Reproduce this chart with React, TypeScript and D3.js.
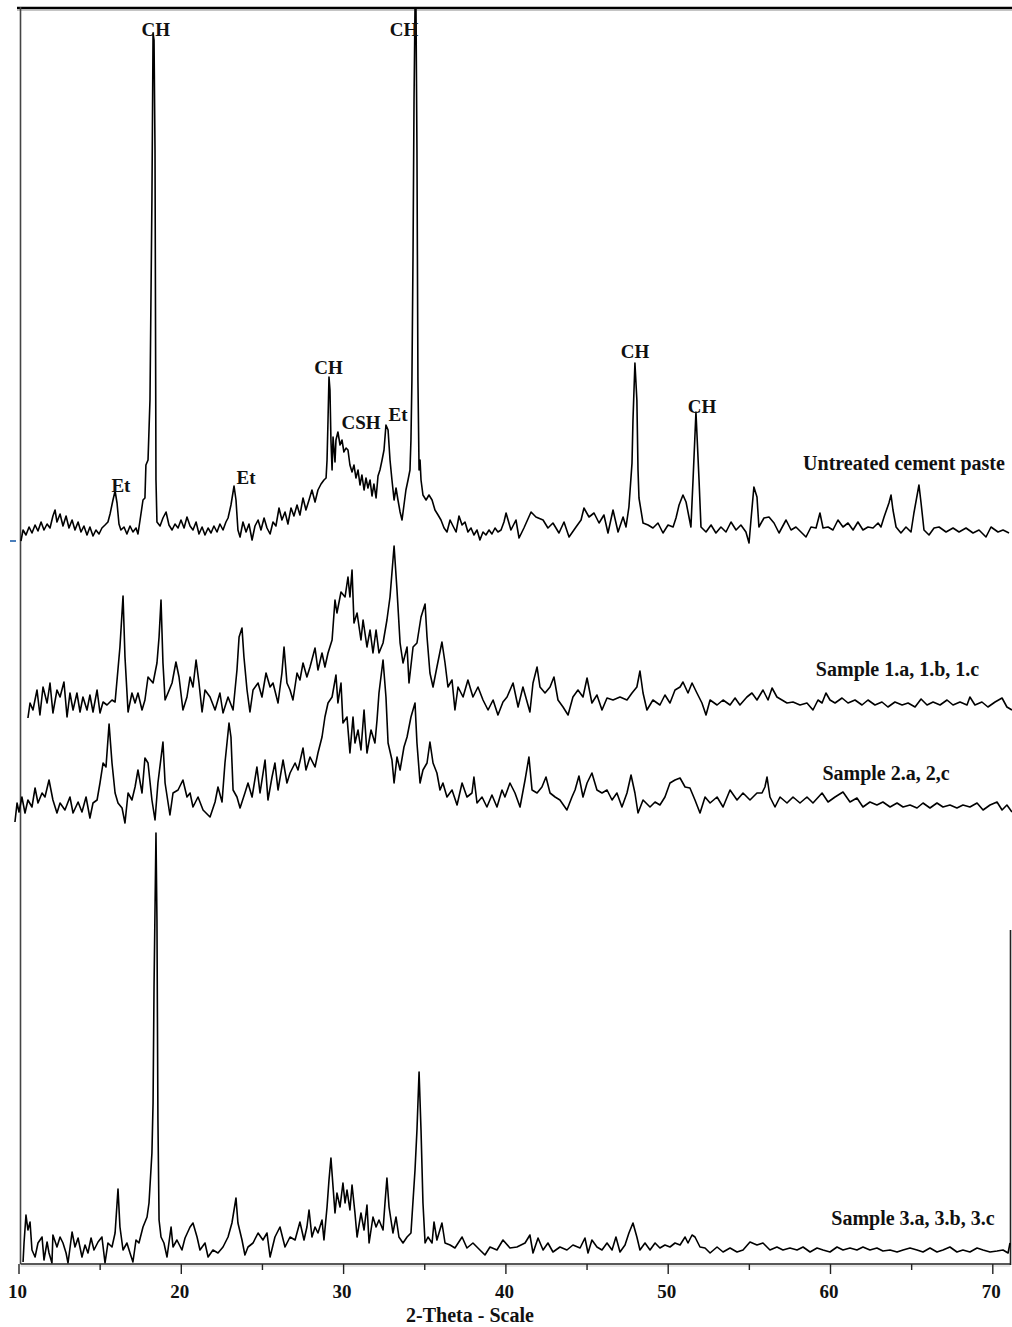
import React from 'react';
import * as d3 from 'd3';

// XRD patterns: [2-theta (deg), intensity (a.u.)]
const untreated: [number, number][] = [
  [10.12, 4], [10.25, 15], [10.43, 10], [10.62, 18], [10.8, 12], [10.99, 20], [11.17, 14], [11.36, 23],
  [11.54, 15], [11.73, 21], [11.91, 17], [12.09, 29], [12.22, 35], [12.34, 23], [12.53, 31], [12.71, 19],
  [12.9, 29], [13.08, 17], [13.27, 25], [13.45, 15], [13.64, 23], [13.82, 13], [14.0, 19], [14.19, 10],
  [14.37, 18], [14.56, 9], [14.74, 15], [14.93, 11], [15.11, 17], [15.3, 20], [15.48, 23], [15.61, 31],
  [15.79, 45], [15.92, 54], [16.04, 42], [16.16, 21], [16.28, 15], [16.47, 18], [16.65, 11], [16.84, 19],
  [17.02, 13], [17.21, 17], [17.33, 11], [17.46, 25], [17.64, 45], [17.76, 47], [17.82, 80], [17.95, 85],
  [18.07, 145], [18.19, 345], [18.26, 512], [18.32, 505], [18.38, 395], [18.44, 65], [18.5, 23], [18.69, 19],
  [18.87, 27], [19.06, 33], [19.24, 20], [19.43, 15], [19.61, 21], [19.8, 17], [19.98, 25], [20.17, 17],
  [20.35, 28], [20.54, 19], [20.72, 15], [20.91, 23], [21.09, 11], [21.28, 18], [21.46, 10], [21.65, 17],
  [21.83, 12], [22.01, 19], [22.2, 13], [22.38, 21], [22.57, 15], [22.75, 23], [22.88, 27], [23.06, 40],
  [23.25, 59], [23.37, 45], [23.49, 15], [23.62, 8], [23.8, 23], [23.99, 13], [24.17, 21], [24.36, 5],
  [24.54, 19], [24.73, 25], [24.91, 15], [25.1, 27], [25.28, 17], [25.47, 11], [25.65, 23], [25.83, 19],
  [26.02, 37], [26.2, 25], [26.39, 33], [26.57, 21], [26.76, 37], [26.94, 29], [27.13, 40], [27.31, 30],
  [27.5, 47], [27.68, 35], [27.87, 45], [28.05, 55], [28.24, 43], [28.42, 55], [28.61, 61], [28.79, 65],
  [28.92, 67], [28.98, 85], [29.04, 125], [29.1, 168], [29.16, 155], [29.22, 105], [29.29, 75], [29.35, 108],
  [29.47, 83], [29.53, 105], [29.65, 113], [29.78, 100], [29.9, 105], [30.02, 93], [30.15, 97], [30.27, 95],
  [30.39, 80], [30.52, 73], [30.64, 80], [30.76, 67], [30.89, 75], [31.01, 60], [31.13, 70], [31.26, 55],
  [31.38, 67], [31.5, 57], [31.63, 65], [31.75, 49], [31.87, 61], [32.0, 47], [32.12, 69], [32.24, 75],
  [32.37, 85], [32.49, 95], [32.61, 120], [32.74, 115], [32.86, 85], [32.98, 65], [33.11, 45], [33.23, 57],
  [33.35, 45], [33.48, 33], [33.6, 25], [33.72, 40], [33.84, 55], [33.97, 65], [34.09, 75], [34.15, 105],
  [34.21, 165], [34.28, 295], [34.34, 445], [34.4, 537], [34.46, 537], [34.52, 395], [34.58, 165], [34.65, 75],
  [34.71, 85], [34.77, 65], [34.89, 50], [35.08, 45], [35.26, 50], [35.45, 45], [35.63, 35], [35.82, 30],
  [36.0, 25], [36.19, 17], [36.37, 13], [36.56, 25], [36.74, 19], [36.93, 13], [37.11, 29], [37.3, 20],
  [37.48, 23], [37.66, 13], [37.85, 17], [38.03, 10], [38.22, 15], [38.4, 5], [38.59, 13], [38.77, 10],
  [38.96, 15], [39.14, 11], [39.33, 17], [39.51, 13], [39.7, 15], [39.88, 23], [40.01, 32], [40.31, 15],
  [40.62, 25], [40.81, 7], [41.11, 17], [41.55, 33], [41.85, 28], [42.29, 25], [42.59, 17], [42.9, 22],
  [43.27, 12], [43.58, 23], [43.89, 8], [44.32, 18], [44.63, 25], [44.81, 37], [45.12, 28], [45.43, 32],
  [45.74, 22], [46.04, 30], [46.29, 12], [46.6, 35], [46.91, 13], [47.22, 28], [47.4, 18], [47.58, 38],
  [47.77, 82], [47.83, 125], [47.95, 182], [48.07, 145], [48.14, 75], [48.2, 47], [48.45, 22], [48.76, 20],
  [49.06, 17], [49.37, 22], [49.68, 12], [49.99, 20], [50.3, 18], [50.48, 27], [50.67, 40], [50.91, 50],
  [51.1, 43], [51.28, 28], [51.4, 18], [51.53, 65], [51.71, 133], [51.9, 65], [52.02, 18], [52.33, 13],
  [52.64, 20], [52.94, 12], [53.25, 18], [53.56, 13], [53.87, 23], [54.18, 15], [54.48, 20], [54.79, 13],
  [54.98, 2], [55.1, 25], [55.28, 58], [55.47, 48], [55.59, 18], [55.9, 27], [56.21, 28], [56.52, 22],
  [56.83, 12], [57.26, 25], [57.57, 15], [57.87, 18], [58.18, 13], [58.49, 8], [58.8, 18], [59.11, 17],
  [59.35, 32], [59.54, 17], [59.85, 18], [60.15, 15], [60.46, 25], [60.77, 18], [61.08, 22], [61.39, 15],
  [61.69, 23], [62.0, 15], [62.31, 18], [62.62, 17], [62.93, 22], [63.11, 18], [63.3, 28], [63.6, 42],
  [63.73, 50], [63.85, 35], [64.04, 18], [64.34, 12], [64.65, 18], [64.96, 13], [65.14, 32], [65.45, 60],
  [65.58, 42], [65.76, 15], [66.07, 10], [66.38, 17], [66.69, 18], [67.12, 13], [67.55, 17], [67.92, 13],
  [68.35, 17], [68.78, 12], [69.15, 15], [69.58, 8], [69.89, 18], [70.32, 13], [70.63, 15], [71.0, 12],
];

const sample1: [number, number][] = [
  [10.55, 2], [10.68, 17], [10.86, 10], [11.11, 30], [11.29, 5], [11.48, 33], [11.73, 17], [11.91, 37],
  [12.09, 7], [12.34, 30], [12.53, 23], [12.77, 38], [12.96, 3], [13.14, 27], [13.33, 10], [13.57, 27],
  [13.76, 8], [13.94, 23], [14.19, 10], [14.37, 25], [14.56, 8], [14.81, 30], [14.99, 7], [15.18, 18],
  [15.42, 15], [15.73, 20], [15.92, 18], [16.04, 40], [16.22, 73], [16.41, 124], [16.53, 63], [16.72, 8],
  [16.96, 27], [17.15, 17], [17.33, 27], [17.58, 10], [17.76, 20], [17.95, 43], [18.26, 37], [18.5, 57],
  [18.63, 83], [18.75, 120], [18.87, 57], [19.0, 20], [19.18, 27], [19.43, 37], [19.67, 58], [19.86, 43],
  [20.1, 10], [20.35, 23], [20.54, 43], [20.72, 33], [20.91, 60], [21.09, 37], [21.28, 8], [21.46, 30],
  [21.77, 23], [22.08, 10], [22.38, 27], [22.57, 7], [22.88, 23], [23.19, 10], [23.43, 50], [23.56, 83],
  [23.74, 92], [23.86, 63], [24.05, 30], [24.23, 8], [24.42, 30], [24.73, 37], [24.97, 23], [25.22, 47],
  [25.47, 33], [25.65, 37], [25.96, 17], [26.2, 47], [26.33, 73], [26.51, 37], [26.7, 30], [26.88, 20],
  [27.13, 47], [27.31, 40], [27.5, 57], [27.74, 43], [27.93, 53], [28.24, 72], [28.42, 50], [28.67, 67],
  [28.85, 53], [29.04, 67], [29.29, 80], [29.47, 120], [29.59, 107], [29.84, 128], [30.09, 123], [30.27, 143],
  [30.39, 123], [30.52, 150], [30.64, 97], [30.83, 107], [31.07, 80], [31.2, 100], [31.44, 73], [31.63, 90],
  [31.81, 67], [32.0, 90], [32.18, 67], [32.43, 77], [32.67, 100], [32.86, 123], [33.11, 174], [33.29, 130],
  [33.48, 77], [33.66, 57], [33.91, 73], [34.03, 37], [34.28, 73], [34.52, 77], [34.77, 103], [35.02, 116],
  [35.14, 83], [35.32, 47], [35.51, 33], [35.75, 53], [36.06, 78], [36.25, 57], [36.43, 33], [36.68, 40],
  [36.86, 10], [37.05, 33], [37.36, 23], [37.66, 40], [37.97, 23], [38.28, 33], [38.59, 20], [38.9, 10],
  [39.21, 20], [39.51, 5], [39.82, 18], [40.07, 23], [40.44, 37], [40.75, 13], [41.05, 33], [41.48, 8],
  [41.67, 37], [41.92, 53], [42.1, 33], [42.41, 27], [42.72, 33], [42.96, 43], [43.21, 20], [43.52, 13],
  [43.83, 5], [44.13, 23], [44.44, 30], [44.75, 23], [45.0, 42], [45.3, 17], [45.61, 25], [45.92, 10],
  [46.23, 22], [46.6, 20], [47.03, 23], [47.46, 20], [47.77, 27], [48.07, 33], [48.26, 49], [48.45, 27],
  [48.69, 10], [49.06, 20], [49.49, 15], [49.8, 25], [50.11, 17], [50.42, 30], [50.73, 33], [50.91, 38],
  [51.22, 27], [51.47, 37], [51.77, 27], [52.08, 17], [52.33, 5], [52.58, 20], [53.01, 15], [53.38, 20],
  [53.81, 15], [54.12, 22], [54.42, 15], [54.85, 23], [55.16, 27], [55.47, 20], [55.84, 30], [56.15, 20],
  [56.4, 32], [56.7, 23], [57.01, 20], [57.32, 17], [57.69, 18], [58.12, 15], [58.55, 17], [58.92, 10],
  [59.23, 20], [59.48, 17], [59.72, 27], [59.97, 20], [60.28, 17], [60.71, 22], [61.08, 17], [61.51, 20],
  [61.94, 15], [62.31, 20], [62.74, 15], [63.17, 18], [63.54, 13], [63.97, 18], [64.41, 15], [64.78, 17],
  [65.21, 13], [65.58, 21], [65.95, 15], [66.32, 18], [66.75, 15], [67.18, 20], [67.55, 15], [67.98, 18],
  [68.41, 15], [68.59, 23], [68.9, 15], [69.33, 18], [69.7, 13], [70.14, 18], [70.57, 22], [70.87, 13],
  [71.18, 10],
];

const sample2: [number, number][] = [
  [9.75, 3], [9.88, 22], [10.0, 13], [10.18, 28], [10.37, 12], [10.55, 25], [10.8, 18], [10.99, 37],
  [11.17, 22], [11.42, 32], [11.6, 28], [11.85, 45], [12.09, 25], [12.34, 12], [12.53, 22], [12.83, 15],
  [13.14, 28], [13.33, 12], [13.64, 23], [13.88, 13], [14.13, 28], [14.37, 7], [14.56, 22], [14.81, 25],
  [14.99, 42], [15.18, 62], [15.36, 58], [15.55, 101], [15.73, 62], [15.92, 32], [16.1, 22], [16.35, 17],
  [16.53, 2], [16.72, 32], [16.96, 25], [17.15, 38], [17.33, 55], [17.58, 32], [17.76, 67], [17.95, 62],
  [18.19, 25], [18.38, 5], [18.56, 42], [18.87, 83], [19.0, 42], [19.3, 10], [19.49, 32], [19.8, 35],
  [20.1, 45], [20.35, 28], [20.54, 32], [20.72, 18], [21.03, 28], [21.34, 15], [21.77, 8], [22.08, 23],
  [22.26, 38], [22.51, 23], [22.69, 62], [22.94, 102], [23.06, 88], [23.19, 35], [23.43, 28], [23.62, 17],
  [23.92, 32], [24.11, 42], [24.36, 28], [24.66, 58], [24.85, 32], [25.16, 65], [25.34, 25], [25.59, 48],
  [25.77, 62], [25.96, 35], [26.27, 65], [26.51, 42], [26.7, 52], [27.01, 62], [27.19, 55], [27.5, 77],
  [27.68, 55], [27.93, 68], [28.24, 58], [28.42, 72], [28.67, 88], [28.85, 108], [29.04, 122], [29.29, 128],
  [29.53, 150], [29.65, 122], [29.84, 142], [29.96, 102], [30.21, 108], [30.39, 72], [30.58, 108], [30.7, 82],
  [30.89, 95], [31.07, 75], [31.26, 115], [31.44, 72], [31.69, 95], [31.93, 82], [32.06, 105], [32.18, 132],
  [32.43, 165], [32.61, 128], [32.74, 82], [32.98, 65], [33.11, 42], [33.29, 68], [33.48, 55], [33.72, 78],
  [33.91, 88], [34.15, 108], [34.4, 122], [34.52, 82], [34.71, 42], [34.89, 55], [35.14, 62], [35.32, 83],
  [35.51, 62], [35.75, 52], [35.94, 35], [36.12, 42], [36.37, 28], [36.68, 35], [36.99, 20], [37.3, 42],
  [37.6, 28], [37.91, 32], [38.03, 48], [38.22, 22], [38.53, 28], [38.83, 18], [39.14, 30], [39.45, 18],
  [39.76, 35], [39.94, 28], [40.25, 42], [40.56, 32], [40.87, 18], [41.18, 45], [41.42, 68], [41.61, 35],
  [41.92, 32], [42.22, 38], [42.47, 48], [42.72, 32], [43.03, 28], [43.33, 25], [43.76, 15], [44.07, 28],
  [44.26, 35], [44.5, 49], [44.75, 28], [45.0, 42], [45.3, 52], [45.61, 35], [45.92, 32], [46.23, 35],
  [46.54, 25], [46.84, 32], [47.15, 18], [47.46, 32], [47.71, 50], [47.95, 32], [48.14, 12], [48.45, 25],
  [48.88, 18], [49.19, 23], [49.49, 20], [49.8, 28], [50.11, 42], [50.42, 45], [50.73, 47], [51.04, 38],
  [51.34, 37], [51.65, 25], [51.96, 12], [52.27, 28], [52.58, 22], [53.01, 28], [53.38, 18], [53.81, 35],
  [54.24, 25], [54.61, 32], [55.04, 25], [55.47, 32], [55.78, 32], [55.96, 38], [56.09, 48], [56.27, 28],
  [56.58, 18], [56.89, 28], [57.32, 22], [57.69, 28], [58.12, 22], [58.55, 28], [58.92, 22], [59.48, 32],
  [59.85, 23], [60.28, 28], [60.77, 33], [61.2, 23], [61.63, 27], [62.0, 18], [62.43, 23], [62.86, 20],
  [63.23, 23], [63.67, 18], [64.1, 22], [64.47, 18], [64.9, 20], [65.33, 17], [65.7, 22], [66.13, 17],
  [66.56, 22], [66.93, 18], [67.36, 20], [67.79, 17], [68.16, 20], [68.59, 18], [69.03, 22], [69.4, 15],
  [69.83, 20], [70.26, 23], [70.57, 15], [70.87, 20], [71.18, 13],
];

const sample3: [number, number][] = [
  [10.25, 1], [10.31, 20], [10.43, 48], [10.55, 33], [10.68, 41], [10.8, 13], [10.99, 6], [11.17, 20],
  [11.42, 26], [11.54, 3], [11.73, 21], [11.85, 10], [12.03, 0], [12.09, 28], [12.34, 16], [12.53, 26],
  [12.71, 20], [12.9, 10], [13.02, 0], [13.27, 31], [13.45, 16], [13.64, 25], [13.88, 6], [14.07, 18],
  [14.25, 10], [14.44, 25], [14.62, 13], [14.87, 21], [15.11, 26], [15.3, 0], [15.48, 20], [15.73, 16],
  [15.92, 30], [16.1, 74], [16.22, 36], [16.41, 13], [16.65, 20], [16.84, 10], [17.02, 1], [17.21, 23],
  [17.39, 20], [17.64, 36], [17.89, 46], [18.01, 60], [18.19, 110], [18.26, 160], [18.32, 276], [18.44, 430],
  [18.5, 343], [18.56, 143], [18.63, 43], [18.75, 26], [18.93, 20], [19.12, 6], [19.37, 36], [19.49, 16],
  [19.73, 23], [20.04, 13], [20.23, 25], [20.54, 36], [20.72, 40], [20.97, 26], [21.15, 13], [21.46, 20],
  [21.65, 6], [21.95, 13], [22.26, 10], [22.57, 16], [22.88, 26], [23.12, 40], [23.37, 65], [23.49, 40],
  [23.74, 23], [23.92, 8], [24.11, 16], [24.42, 20], [24.73, 30], [25.03, 23], [25.28, 30], [25.47, 6],
  [25.77, 26], [26.08, 36], [26.39, 16], [26.7, 26], [27.01, 23], [27.31, 41], [27.56, 23], [27.74, 36],
  [27.87, 53], [28.05, 26], [28.24, 36], [28.42, 30], [28.67, 43], [28.79, 23], [28.98, 56], [29.1, 83],
  [29.22, 105], [29.35, 76], [29.47, 50], [29.59, 70], [29.78, 56], [29.96, 80], [30.09, 60], [30.21, 73],
  [30.39, 53], [30.52, 78], [30.7, 50], [30.83, 26], [31.07, 50], [31.26, 33], [31.44, 58], [31.57, 20],
  [31.81, 46], [32.0, 36], [32.18, 43], [32.43, 33], [32.55, 60], [32.67, 85], [32.8, 56], [33.04, 30],
  [33.23, 46], [33.41, 26], [33.66, 20], [33.91, 26], [34.15, 30], [34.4, 93], [34.52, 133], [34.65, 191],
  [34.77, 133], [34.89, 60], [35.02, 20], [35.2, 26], [35.45, 20], [35.57, 41], [35.75, 23], [36.06, 40],
  [36.25, 20], [36.56, 18], [36.86, 15], [37.3, 26], [37.6, 15], [37.97, 20], [38.4, 13], [38.71, 8],
  [39.02, 16], [39.45, 13], [39.82, 23], [40.25, 15], [40.68, 16], [41.18, 20], [41.48, 28], [41.67, 10],
  [41.98, 25], [42.29, 13], [42.59, 20], [42.9, 11], [43.33, 16], [43.76, 13], [44.13, 18], [44.57, 15],
  [44.87, 25], [45.06, 10], [45.3, 23], [45.61, 16], [45.92, 13], [46.23, 20], [46.54, 13], [46.78, 26],
  [47.03, 11], [47.34, 18], [47.58, 30], [47.83, 40], [48.07, 26], [48.26, 13], [48.57, 20], [48.88, 13],
  [49.19, 20], [49.49, 15], [49.8, 18], [50.11, 16], [50.42, 20], [50.73, 18], [51.04, 26], [51.22, 20],
  [51.47, 28], [51.65, 26], [51.96, 16], [52.27, 15], [52.58, 10], [53.01, 16], [53.38, 11], [53.81, 15],
  [54.24, 11], [54.61, 13], [55.04, 21], [55.47, 18], [55.84, 20], [56.27, 13], [56.7, 16], [57.07, 13],
  [57.5, 15], [57.94, 13], [58.31, 16], [58.74, 11], [59.17, 15], [59.54, 13], [59.97, 11], [60.4, 16],
  [60.77, 13], [61.2, 15], [61.63, 13], [62.0, 16], [62.43, 13], [62.86, 15], [63.23, 12], [63.67, 13],
  [64.1, 11], [64.47, 13], [64.9, 15], [65.33, 13], [65.7, 11], [66.13, 15], [66.56, 11], [66.93, 13],
  [67.36, 16], [67.79, 11], [68.16, 13], [68.59, 11], [69.03, 15], [69.4, 13], [69.83, 11], [70.26, 12],
  [70.63, 13], [70.94, 10], [71.06, 20],
];

const majorTicks = [10, 20, 30, 40, 50, 60, 70];
const minorTicks = [15, 25, 35, 45, 55, 65];

// vertical offset of each pattern in the stack (intensity units)
const stackOffsets = { untreated: 718, sample1: 543, sample2: 438, sample3: 0 };

// phase labels on the untreated pattern: [text, 2-theta, intensity]
const phaseLabels: [string, number, number][] = [
  ['CH', 18.42, 509],
  ['CH', 33.72, 509],
  ['CH', 29.07, 171],
  ['CSH', 31.07, 116],
  ['Et', 16.28, 53],
  ['Et', 23.99, 61],
  ['Et', 33.35, 124],
  ['CH', 47.95, 187],
  ['CH', 52.08, 132],
];

const seriesLabels: { key: keyof typeof stackOffsets; text: string; theta: number; level: number }[] = [
  { key: 'untreated', text: 'Untreated cement paste', theta: 64.53, level: 75 },
  { key: 'sample1', text: 'Sample 1.a, 1.b, 1.c', theta: 64.13, level: 44 },
  { key: 'sample2', text: 'Sample 2.a, 2,c', theta: 63.42, level: 45 },
  { key: 'sample3', text: 'Sample 3.a, 3.b, 3.c', theta: 65.08, level: 38 },
];

const W = 1012;
const H = 1327;
const FONT = '"Liberation Serif", "Times New Roman", serif';

export default function App() {
  const x = d3.scaleLinear().domain([10, 70]).range([19, 992.8]);
  const y = d3.scaleLinear().domain([0, 1256]).range([1263, 7]);
  const axisY = y(0) + 1;
  const left = 20.5;
  const right = 1010.5;

  const makeLine = (off: number) =>
    d3
      .line<[number, number]>()
      .x((d) => x(d[0]))
      .y((d) => y(d[1] + off));

  const series: [keyof typeof stackOffsets, [number, number][]][] = [
    ['untreated', untreated],
    ['sample1', sample1],
    ['sample2', sample2],
    ['sample3', sample3],
  ];

  return (
    <svg
      width={W}
      height={H}
      style={{ position: 'absolute', left: 0, top: 0, background: '#fff' }}
      fontFamily={FONT}
    >
      <rect width={W} height={H} fill="#fff" />

      {/* frame pieces */}
      <line x1={17} x2={W} y1={8} y2={8} stroke="#000" strokeWidth={2.4} />
      <line x1={17} x2={W} y1={10.2} y2={10.2} stroke="#aaa" strokeWidth={1} />
      <line x1={left} x2={left} y1={7} y2={axisY} stroke="#444" strokeWidth={1.6} />
      <line x1={right} x2={right} y1={930} y2={axisY + 1} stroke="#222" strokeWidth={1.6} />
      <line x1={10} x2={16} y1={541} y2={541} stroke="#4a7ebb" strokeWidth={2} />

      {/* patterns */}
      {series.map(([key, data]) => (
        <path
          key={key}
          d={makeLine(stackOffsets[key])(data) || ''}
          fill="none"
          stroke="#000"
          strokeWidth={1.6}
          strokeLinejoin="round"
        />
      ))}

      {/* x axis */}
      <line x1={left} x2={right} y1={axisY} y2={axisY} stroke="#222" strokeWidth={1.5} />
      <line x1={left} x2={right} y1={axisY + 2} y2={axisY + 2} stroke="#ccc" strokeWidth={1.2} />
      {majorTicks.map((t) => (
        <g key={'M' + t}>
          <line x1={x(t)} x2={x(t)} y1={axisY} y2={axisY + 10} stroke="#222" strokeWidth={1.4} />
          <text
            x={x(t) - 1.5}
            y={1298}
            textAnchor="middle"
            fontSize={19}
            fontWeight="bold"
            fill="#111"
          >
            {t}
          </text>
        </g>
      ))}
      {minorTicks.map((t) => (
        <line key={'m' + t} x1={x(t)} x2={x(t)} y1={axisY} y2={axisY + 6} stroke="#222" strokeWidth={1.4} />
      ))}
      <text x={470} y={1322} textAnchor="middle" fontSize={20} fontWeight="bold" fill="#111">
        2-Theta - Scale
      </text>

      {/* phase labels */}
      {phaseLabels.map(([txt, th, lv], i) => (
        <text
          key={'p' + i}
          x={x(th)}
          y={y(lv + stackOffsets.untreated)}
          textAnchor="middle"
          fontSize={19}
          fontWeight="bold"
          fill="#111"
        >
          {txt}
        </text>
      ))}

      {/* series labels */}
      {seriesLabels.map((s) => (
        <text
          key={s.key}
          x={x(s.theta)}
          y={y(s.level + stackOffsets[s.key])}
          textAnchor="middle"
          fontSize={20}
          fontWeight="bold"
          fill="#111"
        >
          {s.text}
        </text>
      ))}
    </svg>
  );
}
